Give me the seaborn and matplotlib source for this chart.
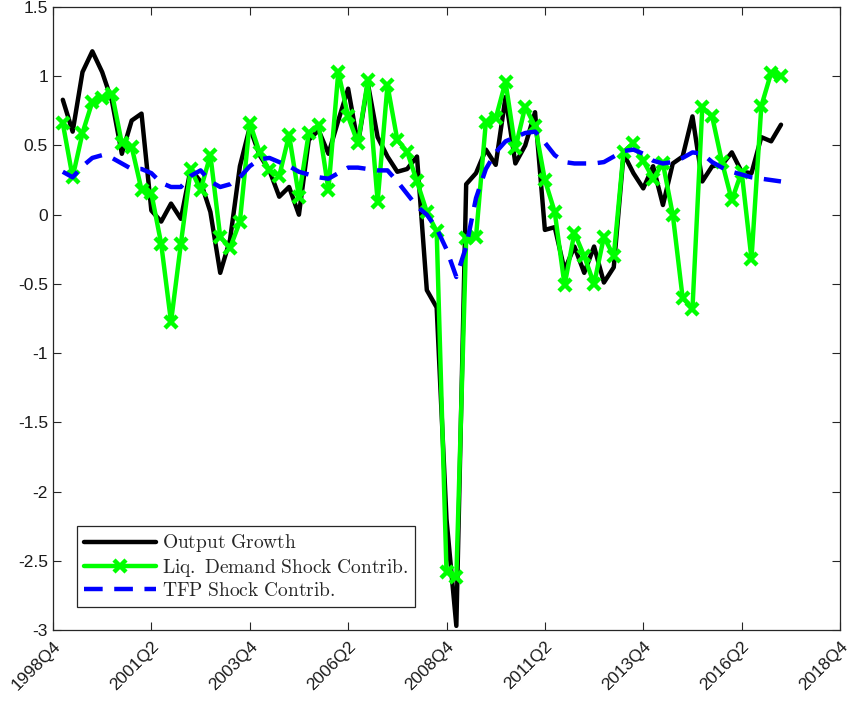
import matplotlib
matplotlib.use("Agg")
import matplotlib.pyplot as plt
import numpy as np
import seaborn as sns

# quarters 1999Q1 .. 2017Q2 (positions counted from 1998Q4 = 0)
quarter_pos = np.arange(1, 75)

output_growth = [0.83, 0.60, 1.03, 1.18, 1.03, 0.82, 0.44, 0.68, 0.73, 0.03,
                 -0.05, 0.08, -0.03, 0.33, 0.24, 0.02, -0.42, -0.18, 0.35, 0.63,
                 0.43, 0.32, 0.13, 0.20, 0.00, 0.54, 0.61, 0.44, 0.68, 0.91,
                 0.51, 0.95, 0.56, 0.42, 0.31, 0.33, 0.42, -0.545, -0.67, -2.20,
                 -2.97, 0.22, 0.30, 0.47, 0.36, 0.85, 0.37, 0.50, 0.74, -0.11,
                 -0.09, -0.40, -0.23, -0.42, -0.23, -0.49, -0.38, 0.44, 0.30, 0.19,
                 0.35, 0.07, 0.37, 0.42, 0.71, 0.24, 0.35, 0.36, 0.45, 0.31,
                 0.30, 0.56, 0.53, 0.65]

liq_demand = [0.66, 0.27, 0.59, 0.815, 0.84, 0.875, 0.515, 0.49, 0.18, 0.155,
              -0.21, -0.775, -0.21, 0.33, 0.18, 0.43, -0.16, -0.24, -0.05, 0.665,
              0.45, 0.32, 0.28, 0.575, 0.13, 0.59, 0.65, 0.18, 1.03, 0.71,
              0.515, 0.97, 0.095, 0.935, 0.54, 0.455, 0.24, 0.02, -0.12, -2.58,
              -2.62, -0.17, -0.16, 0.67, 0.695, 0.96, 0.48, 0.78, 0.64, 0.25,
              0.02, -0.51, -0.13, -0.30, -0.50, -0.16, -0.30, 0.455, 0.515, 0.39,
              0.26, 0.37, 0.00, -0.60, -0.68, 0.775, 0.71, 0.38, 0.105, 0.31,
              -0.32, 0.785, 1.025, 1.005]

tfp = [0.31, 0.27, 0.35, 0.41, 0.43, 0.41, 0.37, 0.33, 0.33, 0.30,
       0.23, 0.20, 0.20, 0.28, 0.32, 0.24, 0.20, 0.22, 0.27, 0.35,
       0.40, 0.41, 0.38, 0.35, 0.31, 0.29, 0.27, 0.26, 0.30, 0.34,
       0.34, 0.33, 0.32, 0.32, 0.24, 0.15, 0.06, 0.00, -0.10, -0.25,
       -0.45, -0.23, 0.12, 0.33, 0.45, 0.53, 0.56, 0.59, 0.60, 0.52,
       0.43, 0.38, 0.37, 0.37, 0.37, 0.38, 0.42, 0.46, 0.47, 0.44,
       0.39, 0.37, 0.38, 0.41, 0.45, 0.44, 0.38, 0.34, 0.31, 0.29,
       0.27, 0.26, 0.25, 0.24]

tick_pos = np.arange(0, 81, 10)
tick_labels = ["1998Q4", "2001Q2", "2003Q4", "2006Q2", "2008Q4",
               "2011Q2", "2013Q4", "2016Q2", "2018Q4"]
y_ticks = [-3, -2.5, -2, -1.5, -1, -0.5, 0, 0.5, 1, 1.5]
y_labels = ["-3", "-2.5", "-2", "-1.5", "-1", "-0.5", "0", "0.5", "1", "1.5"]

sns.set_style("white")
plt.rcParams["font.family"] = ["Liberation Sans", "DejaVu Sans"]
plt.rcParams["mathtext.fontset"] = "cm"

fig = plt.figure(figsize=(8.53, 7.09), dpi=100)
ax = fig.add_axes([0.0621, 0.1114, 0.9227, 0.8787])

sns.lineplot(x=quarter_pos, y=output_growth, ax=ax, color="black", lw=3.2,
             label=r"$\mathrm{Output\ Growth}$")
sns.lineplot(x=quarter_pos, y=liq_demand, ax=ax, color="#00ff00", lw=3.2,
             marker="x", markersize=8, markeredgewidth=3.2, markeredgecolor="#00ff00",
             label=r"$\mathrm{Liq.\ Demand\ Shock\ Contrib.}$")
sns.lineplot(x=quarter_pos, y=tfp, ax=ax, color="#0000ff", lw=3.2,
             linestyle="--", label=r"$\mathrm{TFP\ Shock\ Contrib.}$")
ax.lines[-1].set_dashes([4.2, 2.6])

ax.set_xlim(0, 80)
ax.set_ylim(-3, 1.5)
ax.set_xticks(tick_pos)
ax.set_xticklabels(tick_labels, rotation=45, ha="right", rotation_mode="anchor",
                   fontsize=12.5, color="#1a1a1a")
ax.set_yticks(y_ticks)
ax.set_yticklabels(y_labels, fontsize=12.5, color="#1a1a1a")
ax.tick_params(direction="in", length=6, width=0.8, color="#262626",
               top=True, right=True, bottom=True, left=True)
ax.tick_params(axis="x", pad=6)
for s in ax.spines.values():
    s.set_visible(True)
    s.set_color("#262626")
    s.set_linewidth(0.9)

leg = ax.legend(loc="lower left", bbox_to_anchor=(0.0305, 0.037), borderaxespad=0,
                fontsize=14, fancybox=False, framealpha=1, edgecolor="#262626",
                handlelength=3.7, handletextpad=0.3, labelspacing=0.15,
                borderpad=0.35)
leg.get_frame().set_linewidth(0.9)

fig.savefig("out.png", dpi=100)
